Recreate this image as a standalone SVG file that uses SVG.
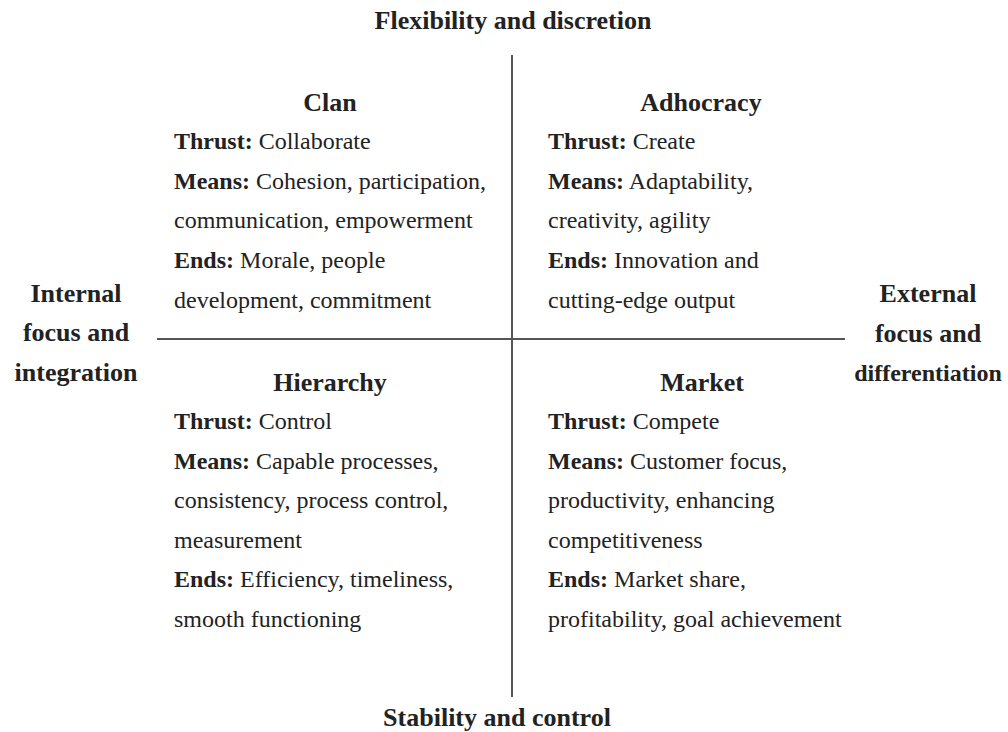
<svg xmlns="http://www.w3.org/2000/svg" width="1008" height="732" viewBox="0 0 1008 732">
<style>
text{font-family:"Liberation Serif","Times New Roman",serif;font-size:24px;fill:#222}
.b{font-weight:bold}
.h{font-weight:bold;font-size:26px}
.c{text-anchor:middle}
.ax{stroke:#555;stroke-width:2;fill:none}
</style>
<rect width="1008" height="732" fill="#fff"/>
<g id="axes">
<line class="ax" x1="512" y1="55" x2="512" y2="697"/>
<line class="ax" x1="157" y1="339" x2="845" y2="339"/>
</g>
<g id="axis-labels">
<text class="h c" x="513" y="29">Flexibility and discretion</text>
<text class="h c" x="497" y="726">Stability and control</text>
<text class="h c" x="76" y="302">Internal</text>
<text class="h c" x="76" y="341">focus and</text>
<text class="h c" x="76" y="381">integration</text>
<text class="h c" x="928" y="302">External</text>
<text class="h c" x="928" y="342">focus and</text>
<text class="b c" x="928" y="381">differentiation</text>
</g>
<g id="clan">
<text class="h c" x="330" y="111">Clan</text>
<text x="174" y="149"><tspan class="b">Thrust:</tspan> Collaborate</text>
<text x="174" y="189"><tspan class="b">Means:</tspan> Cohesion, participation,</text>
<text x="174" y="228">communication, empowerment</text>
<text x="174" y="268"><tspan class="b">Ends:</tspan> Morale, people</text>
<text x="174" y="308">development, commitment</text>
</g>
<g id="adhocracy">
<text class="h c" x="701" y="111">Adhocracy</text>
<text x="548" y="149"><tspan class="b">Thrust:</tspan> Create</text>
<text x="548" y="189"><tspan class="b">Means:</tspan> Adaptability,</text>
<text x="548" y="228">creativity, agility</text>
<text x="548" y="268"><tspan class="b">Ends:</tspan> Innovation and</text>
<text x="548" y="308">cutting-edge output</text>
</g>
<g id="hierarchy">
<text class="h c" x="330" y="391">Hierarchy</text>
<text x="174" y="429"><tspan class="b">Thrust:</tspan> Control</text>
<text x="174" y="469"><tspan class="b">Means:</tspan> Capable processes,</text>
<text x="174" y="508">consistency, process control,</text>
<text x="174" y="548">measurement</text>
<text x="174" y="587"><tspan class="b">Ends:</tspan> Efficiency, timeliness,</text>
<text x="174" y="627">smooth functioning</text>
</g>
<g id="market">
<text class="h c" x="702" y="391">Market</text>
<text x="548" y="429"><tspan class="b">Thrust:</tspan> Compete</text>
<text x="548" y="469"><tspan class="b">Means:</tspan> Customer focus,</text>
<text x="548" y="508">productivity, enhancing</text>
<text x="548" y="548">competitiveness</text>
<text x="548" y="587"><tspan class="b">Ends:</tspan> Market share,</text>
<text x="548" y="627">profitability, goal achievement</text>
</g>
</svg>
